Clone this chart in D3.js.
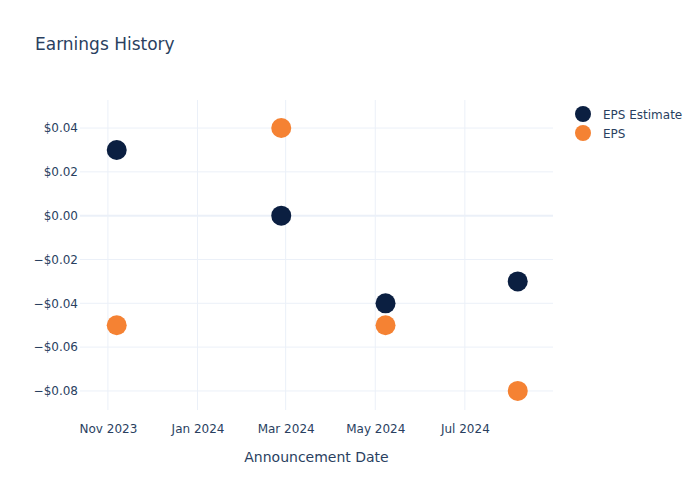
<!DOCTYPE html>
<html><head><meta charset="utf-8">
<script src="https://cdn.jsdelivr.net/npm/d3@7"></script>
<style>body{margin:0;background:#fff}svg{font-family:"DejaVu Sans",sans-serif}</style>
</head><body><svg id="c" width="700" height="500"></svg>
<script>
const dates = ["2023-11-07","2024-02-27","2024-05-08","2024-08-06"];
const epsEstimate = [0.03, 0.00, -0.04, -0.03];
const eps = [-0.05, 0.04, -0.05, -0.08];
const xTicks = ["2023-11-01","2024-01-01","2024-03-01","2024-05-01","2024-07-01"];
const yTicks = [-0.08,-0.06,-0.04,-0.02,0,0.02,0.04];
const seriesNames = ["EPS Estimate","EPS"];
const colors = ["#0b1f41","#f58233"];

const parse = d3.utcParse("%Y-%m-%d");
const svg = d3.select("#c");
const L=80, R=553, T=100, B=410;
const x = d3.scaleUtc().domain([parse("2023-10-13"), parse("2024-08-30")]).range([L,R]);
const y = d3.scaleLinear().domain([-0.0887, 0.0528]).range([B,T]);
const txt = "#2a3f5f", grid = "#ebf0f8";

// grid
svg.append("g").selectAll("line").data(xTicks).join("line")
  .attr("x1",d=>x(parse(d))).attr("x2",d=>x(parse(d))).attr("y1",T).attr("y2",B)
  .attr("stroke",grid).attr("stroke-width",1);
svg.append("g").selectAll("line").data(yTicks).join("line")
  .attr("x1",L).attr("x2",R).attr("y1",d=>y(d)).attr("y2",d=>y(d))
  .attr("stroke",grid).attr("stroke-width",d=>d===0?2:1);

// axes
const fmt = d => (d<0?"\u2212":"") + "$" + Math.abs(d).toFixed(2);
const yAxis = d3.axisLeft(y).tickValues(yTicks).tickFormat(fmt).tickSize(0).tickPadding(2);
const gy = svg.append("g").attr("transform",`translate(${L},0)`).call(yAxis)
  .attr("font-family","DejaVu Sans").attr("font-size",12);
gy.select(".domain").remove();
gy.selectAll("text").attr("fill",txt);

const xAxis = d3.axisBottom(x).tickValues(xTicks.map(parse)).tickFormat(d3.utcFormat("%b %Y")).tickSize(0).tickPadding(14);
const gx = svg.append("g").attr("transform",`translate(0,${B})`).call(xAxis)
  .attr("font-family","DejaVu Sans").attr("font-size",12);
gx.select(".domain").remove();
gx.selectAll("text").attr("fill",txt);

// points
[epsEstimate, eps].forEach((vals,i)=>{
  svg.append("g").selectAll("circle").data(vals).join("circle")
    .attr("cx",(d,j)=>x(parse(dates[j]))).attr("cy",d=>y(d)).attr("r",10)
    .attr("fill",colors[i]);
});

// title
svg.append("text").attr("x",35).attr("y",50).text("Earnings History")
  .attr("fill",txt).attr("font-size",17);
svg.append("text").attr("x",(L+R)/2).attr("y",462).attr("text-anchor","middle")
  .text("Announcement Date").attr("fill",txt).attr("font-size",14);

// legend
const lg = svg.append("g").selectAll("g").data(seriesNames).join("g")
  .attr("transform",(d,i)=>`translate(583,${114+i*19})`);
lg.append("circle").attr("r",8).attr("fill",(d,i)=>colors[i]);
lg.append("text").attr("x",20).attr("y",4.5).text(d=>d).attr("fill",txt).attr("font-size",12);
</script></body></html>
